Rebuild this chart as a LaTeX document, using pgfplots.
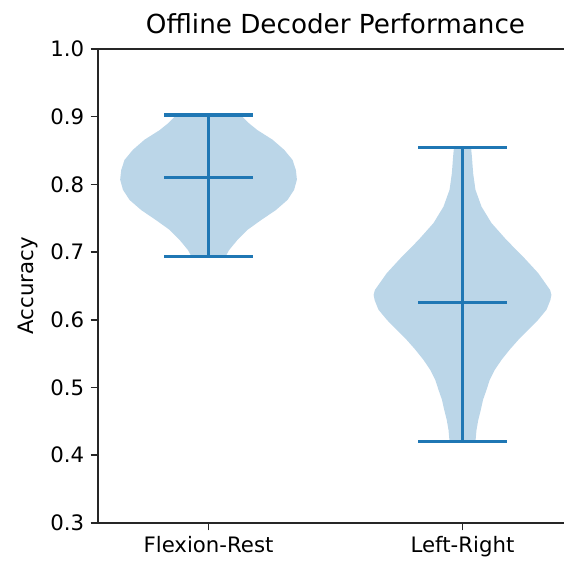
\documentclass[border=0pt]{standalone}
\usepackage{fontspec}
\setmainfont{DejaVu Sans}
\usepackage{pgfplots}
\pgfplotsset{compat=1.18}
\definecolor{cz}{HTML}{1F77B4}
\begin{document}
\begin{tikzpicture}
\begin{axis}[
  scale only axis, width=259.1pt, height=258.6pt,
  xmin=0.565, xmax=2.435, ymin=0.3, ymax=1.0,
  xtick={1,2}, xticklabels={Flexion-Rest,Left-Right},
  ytick={0.3,0.4,0.5,0.6,0.7,0.8,0.9,1.0},
  tick pos=left, tick align=outside, major tick length=4pt,
  every tick/.style={black!85, line width=0.9pt},
  axis line style={black!85, line width=0.9pt},
  title={Offline Decoder Performance},
  title style={font=\fontsize{14.3}{16}\selectfont, yshift=-1.5pt},
  ylabel={Accuracy},
  label style={font=\fontsize{11.6}{14}\selectfont},
  tick label style={font=\fontsize{11.6}{14}\selectfont},
  /pgf/number format/assume math mode=true,
  yticklabel style={/pgf/number format/.cd,fixed,fixed zerofill,precision=1},
]
\coordinate (bl) at (rel axis cs:0,0);
\addplot[fill=cz, fill opacity=0.3, draw=none] coordinates {
(1.126,0.9025) (1.160,0.890) (1.193,0.880) (1.252,0.866) (1.298,0.851) (1.331,0.836) (1.344,0.821) (1.348,0.807) (1.337,0.792) (1.311,0.777) (1.265,0.762) (1.206,0.747) (1.154,0.733) (1.114,0.718) (1.081,0.703) (1.068,0.694)
(0.932,0.694) (0.919,0.703) (0.886,0.718) (0.846,0.733) (0.794,0.747) (0.735,0.762) (0.689,0.777) (0.663,0.792) (0.652,0.807) (0.656,0.821) (0.669,0.836) (0.702,0.851) (0.748,0.866) (0.807,0.880) (0.840,0.890) (0.874,0.9025)
} -- cycle;
\addplot[fill=cz, fill opacity=0.3, draw=none] coordinates {
(2.034,0.853) (2.037,0.841) (2.042,0.816) (2.051,0.792) (2.075,0.767) (2.114,0.743) (2.173,0.718) (2.239,0.693) (2.298,0.669) (2.345,0.644) (2.350,0.637) (2.346,0.629) (2.331,0.615) (2.298,0.600) (2.259,0.585) (2.219,0.570) (2.186,0.556) (2.154,0.541) (2.127,0.526) (2.107,0.511) (2.094,0.496) (2.081,0.482) (2.072,0.467) (2.062,0.452) (2.055,0.437) (2.051,0.420)
(1.949,0.420) (1.945,0.437) (1.938,0.452) (1.928,0.467) (1.919,0.482) (1.906,0.496) (1.893,0.511) (1.873,0.526) (1.846,0.541) (1.814,0.556) (1.781,0.570) (1.741,0.585) (1.702,0.600) (1.669,0.615) (1.654,0.629) (1.650,0.637) (1.655,0.644) (1.702,0.669) (1.761,0.693) (1.827,0.718) (1.886,0.743) (1.925,0.767) (1.949,0.792) (1.958,0.816) (1.963,0.841) (1.966,0.853)
} -- cycle;
\addplot[cz, line width=1.7pt] coordinates {(1,0.694) (1,0.9025)};
\addplot[cz, line width=1.7pt] coordinates {(0.825,0.9025) (1.175,0.9025)};
\addplot[cz, line width=1.7pt] coordinates {(0.825,0.810) (1.175,0.810)};
\addplot[cz, line width=1.7pt] coordinates {(0.825,0.694) (1.175,0.694)};
\addplot[cz, line width=1.7pt] coordinates {(2,0.420) (2,0.854)};
\addplot[cz, line width=1.7pt] coordinates {(1.825,0.854) (2.175,0.854)};
\addplot[cz, line width=1.7pt] coordinates {(1.825,0.626) (2.175,0.626)};
\addplot[cz, line width=1.7pt] coordinates {(1.825,0.420) (2.175,0.420)};
\end{axis}
\pgfresetboundingbox
\path[use as bounding box] ([shift={(-53.5pt,-21.8pt)}]bl) rectangle ([shift={(254.2pt,285.3pt)}]bl);
\end{tikzpicture}
\end{document}
